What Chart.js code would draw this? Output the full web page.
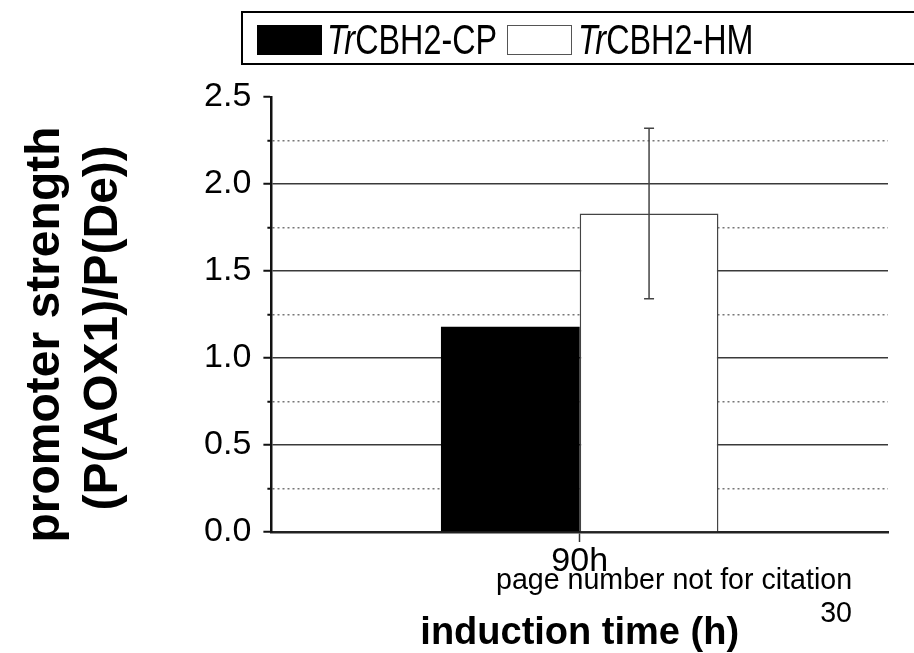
<!DOCTYPE html>
<html>
<head>
<meta charset="utf-8">
<script src="https://cdn.jsdelivr.net/npm/chart.js@4.4.1/dist/chart.umd.min.js"></script>
<style>
  html, body { margin: 0; padding: 0; background: #fff; overflow: hidden; }
  body { width: 914px; height: 653px; position: relative; font-family: 'Liberation Sans', Arial, sans-serif; }
  #wrap { position: absolute; left: 0; top: 0; width: 914px; height: 653px; }
  .legend-box { position: absolute; left: 241px; top: 11px; width: 720px; height: 50px; border: 2.5px solid #000; }
  .swatch { position: absolute; top: 25px; width: 65px; height: 30px; box-sizing: border-box; }
  .sw-cp { left: 257px; background: #000; }
  .sw-hm { left: 507px; background: #fff; border: 1.5px solid #555; }
  .leg-text { position: absolute; top: 19px; font-size: 42px; line-height: 42px; white-space: nowrap; transform: scaleX(0.77); transform-origin: left top; color: #000; }
  .note { position: absolute; font-size: 28.6px; line-height: 28.6px; white-space: nowrap; color: #000; }
</style>
</head>
<body>
<div id="wrap"><canvas id="strengthChart" width="914" height="653"></canvas></div>

<div class="legend-box"></div>
<div class="swatch sw-cp"></div>
<div class="leg-text" style="left:327px"><i>Tr</i>CBH2-CP</div>
<div class="swatch sw-hm"></div>
<div class="leg-text" style="left:578px"><i>Tr</i>CBH2-HM</div>

<div class="note" style="left:496px; top:565px">page number not for citation</div>
<div class="note" style="right:62px; top:598px">30</div>

<script>
const categories = ['90h'];
const seriesNames = ['TrCBH2-CP', 'TrCBH2-HM'];
const cpValues = [1.18];
const hmValues = [1.83];
const cpErrors = [0];
const hmErrors = [0.49];
const yTicks = [0, 0.25, 0.5, 0.75, 1.0, 1.25, 1.5, 1.75, 2.0, 2.25, 2.5];

const FONT = "'Liberation Sans', Arial, sans-serif";

function isMajor(v) {
  return Math.abs(v * 2 - Math.round(v * 2)) < 1e-6;
}

// vertical error bars with caps, drawn from the dataset's errors array
const errorBars = {
  id: 'errorBars',
  afterDatasetsDraw(chart) {
    const { ctx, scales: { y } } = chart;
    chart.data.datasets.forEach((ds, di) => {
      const meta = chart.getDatasetMeta(di);
      if (!ds.errors) return;
      meta.data.forEach((bar, i) => {
        const err = ds.errors[i];
        if (!err) return;
        const v = ds.data[i];
        const top = y.getPixelForValue(v + err);
        const bottom = y.getPixelForValue(v - err);
        ctx.save();
        ctx.strokeStyle = '#444';
        ctx.lineWidth = 1.5;
        ctx.beginPath();
        ctx.moveTo(bar.x, top);
        ctx.lineTo(bar.x, bottom);
        ctx.moveTo(bar.x - 5, top);
        ctx.lineTo(bar.x + 5, top);
        ctx.moveTo(bar.x - 5, bottom);
        ctx.lineTo(bar.x + 5, bottom);
        ctx.stroke();
        ctx.restore();
      });
    });
  }
};

new Chart(document.getElementById('strengthChart'), {
  type: 'bar',
  data: {
    labels: categories,
    datasets: [
      {
        label: seriesNames[0],
        data: cpValues,
        errors: cpErrors,
        backgroundColor: '#000',
        borderColor: '#000',
        borderWidth: 0
      },
      {
        label: seriesNames[1],
        data: hmValues,
        errors: hmErrors,
        backgroundColor: '#fff',
        borderColor: '#444',
        borderWidth: 1.5
      }
    ]
  },
  options: {
    responsive: false,
    animation: false,
    layout: {
      padding: { left: 16, right: 26, top: 97, bottom: 0 }
    },
    datasets: {
      bar: {
        categoryPercentage: 0.45,
        barPercentage: 1.0
      }
    },
    plugins: {
      legend: { display: false },
      tooltip: { enabled: false }
    },
    scales: {
      x: {
        offset: true,
        grid: {
          offset: false,
          drawOnChartArea: false,
          drawTicks: true,
          tickLength: 10,
          tickColor: '#333',
          tickWidth: 1.5
        },
        border: { display: true, color: '#222', width: 2.5 },
        ticks: {
          color: '#000',
          padding: 3,
          font: { family: FONT, size: 34, lineHeight: 1 }
        },
        title: {
          display: true,
          text: 'induction time (h)',
          color: '#000',
          padding: { top: 33, bottom: 0 },
          font: { family: FONT, size: 38, weight: 'bold', lineHeight: 1 }
        }
      },
      y: {
        min: 0,
        max: 2.5,
        afterBuildTicks: (scale) => {
          scale.ticks = yTicks.map(v => ({ value: v }));
        },
        grid: {
          drawTicks: true,
          tickLength: 8,
          tickWidth: 2,
          tickColor: '#111',
          lineWidth: 1.5,
          color: (c) => {
            if (!c.tick) return 'rgba(0,0,0,0)';
            const v = c.tick.value;
            if (v === 0 || v === 2.5) return 'rgba(0,0,0,0)';
            return isMajor(v) ? '#3a3a3a' : '#777';
          },
          tickBorderDash: (c) => (c.tick && !isMajor(c.tick.value)) ? [0, 4, 100] : []
        },
        border: {
          display: true,
          color: '#111',
          width: 2.5,
          dash: (c) => (c.tick && !isMajor(c.tick.value)) ? [2, 3] : []
        },
        ticks: {
          autoSkip: false,
          color: '#000',
          padding: 12,
          font: { family: FONT, size: 34 },
          callback: (v) => isMajor(v) ? Number(v).toFixed(1) : ''
        },
        title: {
          display: true,
          text: ['promoter strength   ', '(P(AOX1)/P(De))  '],
          color: '#000',
          padding: { top: 0, bottom: 59 },
          font: { family: FONT, size: 48, weight: 'bold', lineHeight: 1.22 }
        }
      }
    }
  },
  plugins: [errorBars]
});
</script>
</body>
</html>
